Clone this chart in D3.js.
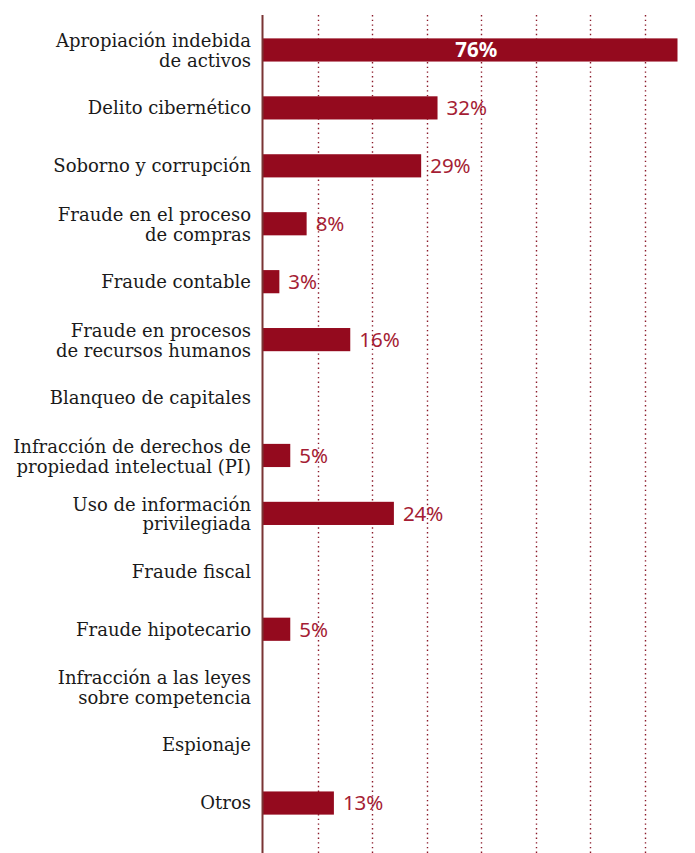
<!DOCTYPE html>
<html>
<head>
<meta charset="utf-8">
<script src="https://cdn.jsdelivr.net/npm/d3@7"></script>
<style>
  body { margin: 0; background: #fff; }
  #container { width: 695px; height: 853px; }
</style>
</head>
<body>
<div id="container"></div>
<script>
// categorias (cada una puede tener dos lineas)
const categories = [
  ["Apropiación indebida", "de activos"],
  ["Delito cibernético"],
  ["Soborno y corrupción"],
  ["Fraude en el proceso", "de compras"],
  ["Fraude contable"],
  ["Fraude en procesos", "de recursos humanos"],
  ["Blanqueo de capitales"],
  ["Infracción de derechos de", "propiedad intelectual (PI)"],
  ["Uso de información", "privilegiada"],
  ["Fraude fiscal"],
  ["Fraude hipotecario"],
  ["Infracción a las leyes", "sobre competencia"],
  ["Espionaje"],
  ["Otros"]
];
// porcentajes (null = sin barra)
const values = [76, 32, 29, 8, 3, 16, null, 5, 24, null, 5, null, null, 13];
const gridTicks = [10, 20, 30, 40, 50, 60, 70];

const width = 695, height = 853;
const barColor = "#940a1e", labelColor = "#a51d34";

const data = categories.map((c, i) => ({ id: i, lines: c, value: values[i] }));

const svg = d3.select("#container")
  .append("svg")
    .attr("width", width)
    .attr("height", height);

const x = d3.scaleLinear()
  .domain([0, 76])
  .range([263, 677.5]);

const y = d3.scaleBand()
  .domain(data.map(d => d.id))
  .range([21, 832])
  .paddingInner(0.6)
  .paddingOuter(0.3);

// lineas de cuadricula punteadas
svg.append("g")
    .attr("stroke", "#8a1a2a")
    .attr("stroke-width", 1.4)
    .attr("stroke-dasharray", "1.4,3.3")
  .selectAll("line")
  .data(gridTicks)
  .join("line")
    .attr("x1", d => Math.round(x(d)) + 0.5)
    .attr("x2", d => Math.round(x(d)) + 0.5)
    .attr("y1", 15)
    .attr("y2", height);

// barras
svg.append("g")
    .attr("fill", barColor)
  .selectAll("rect")
  .data(data.filter(d => d.value != null))
  .join("rect")
    .attr("x", x(0))
    .attr("y", d => y(d.id))
    .attr("width", d => x(d.value) - x(0))
    .attr("height", y.bandwidth());

// eje vertical
svg.append("line")
    .attr("x1", 262.5).attr("x2", 262.5)
    .attr("y1", 15).attr("y2", height)
    .attr("stroke", "#7a3434")
    .attr("stroke-width", 2);

// etiquetas de categoria
const cat = svg.append("g")
    .attr("font-family", "'DejaVu Serif', serif")
    .attr("font-size", 18)
    .attr("fill", "#1a1a1a")
    .attr("text-anchor", "end")
  .selectAll("text")
  .data(data)
  .join("text")
    .attr("x", 251)
    .attr("y", d => y(d.id) + y.bandwidth() / 2);
cat.selectAll("tspan")
  .data(d => d.lines.map((l, i) => ({ l, i, n: d.lines.length })))
  .join("tspan")
    .attr("x", 251)
    .attr("dy", t => t.i === 0 ? (t.n === 1 ? "0.35em" : (0.35 - 0.5) + "em") : "1.1em")
    .text(t => t.l);

// etiquetas de valor
svg.append("g")
    .attr("font-family", "'Noto Sans', sans-serif")
    .attr("font-size", 20.5)
  .selectAll("text")
  .data(data.filter(d => d.value != null))
  .join("text")
    .attr("x", d => d.value > 50 ? x(d.value / 2) + 6 : x(d.value) + 9)
    .attr("y", d => y(d.id) + y.bandwidth() / 2)
    .attr("dy", "0.36em")
    .attr("text-anchor", d => d.value > 50 ? "middle" : "start")
    .attr("fill", d => d.value > 50 ? "#fff" : labelColor)
    .attr("font-weight", d => d.value > 50 ? "bold" : "normal")
    .text(d => d.value + "%");
</script>
</body>
</html>
